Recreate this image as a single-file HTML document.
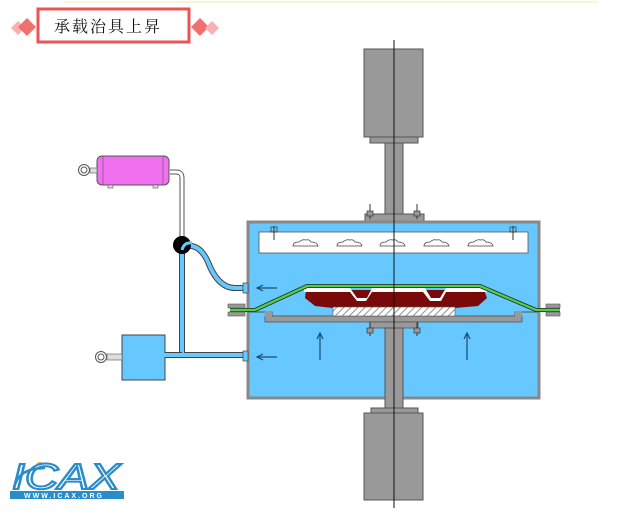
<!DOCTYPE html>
<html><head><meta charset="utf-8"><style>
html,body{margin:0;padding:0;background:#fff;width:628px;height:512px;overflow:hidden}
</style></head><body>
<svg width="628" height="512" viewBox="0 0 628 512" xmlns="http://www.w3.org/2000/svg">
<defs>
<pattern id="h" width="5" height="5" patternUnits="userSpaceOnUse" patternTransform="rotate(45)">
<rect width="5" height="5" fill="#fff"/><line x1="0" y1="0" x2="0" y2="5" stroke="#777" stroke-width="1.6"/></pattern>
</defs>
<line x1="64" y1="2" x2="598" y2="2" stroke="#f8f4c0" stroke-width="1.5"/>
<polygon points="11,28 18,21 25,28 18,35" fill="#f8b0b0"/>
<polygon points="18,27 27,18 36,27 27,36" fill="#f07070"/>
<polygon points="191,27 200,18 209,27 200,36" fill="#f07070"/>
<polygon points="205,28 212,21 219,28 212,35" fill="#f8b0b0"/>
<rect x="38" y="9" width="151" height="33" fill="#fff" stroke="#e85555" stroke-width="3"/>
<text x="54" y="32" font-family="Noto Serif CJK SC, Noto Sans CJK SC, serif" font-size="16" letter-spacing="2" fill="#111">承载治具上昇</text>

<rect x="364" y="49" width="59" height="88" fill="#999" stroke="#555"/>
<rect x="370" y="137" width="48" height="6" fill="#999" stroke="#555"/>
<rect x="385" y="143" width="18" height="72" fill="#999" stroke="#555"/>
<rect x="365" y="214" width="59" height="7" fill="#999" stroke="#555"/>
<line x1="370" y1="204" x2="370" y2="219" stroke="#333"/><rect x="367" y="211" width="6" height="5" fill="#999" stroke="#333" stroke-width=".7"/>
<line x1="417" y1="204" x2="417" y2="219" stroke="#333"/><rect x="414" y="211" width="6" height="5" fill="#999" stroke="#333" stroke-width=".7"/>

<rect x="248" y="222" width="291" height="176" fill="#66c8ff" stroke="#555" stroke-width="1"/>
<rect x="248" y="222" width="291" height="176" fill="none" stroke="#888" stroke-width="3"/>
<rect x="259" y="232" width="269" height="21" fill="#fff" stroke="#555" stroke-width=".8"/>
<g fill="none" stroke="#444" stroke-width=".8">
<path d="M293,246 q0,-4 6,-4 q3,-3 7,-2 q3,-1 5,2 q6,0 7,4 z"/>
<path d="M337,246 q0,-4 6,-4 q3,-3 7,-2 q3,-1 5,2 q6,0 7,4 z"/>
<path d="M380,246 q0,-4 6,-4 q3,-3 7,-2 q3,-1 5,2 q6,0 7,4 z"/>
<path d="M424,246 q0,-4 6,-4 q3,-3 7,-2 q3,-1 5,2 q6,0 7,4 z"/>
<path d="M468,246 q0,-4 6,-4 q3,-3 7,-2 q3,-1 5,2 q6,0 7,4 z"/>
</g>
<line x1="274" y1="226" x2="274" y2="240" stroke="#333"/><rect x="271" y="227" width="6" height="5" fill="none" stroke="#333" stroke-width=".7"/>
<line x1="513" y1="226" x2="513" y2="240" stroke="#333"/><rect x="510" y="227" width="6" height="5" fill="none" stroke="#333" stroke-width=".7"/>
<path d="M249,312 H272 V316 H515 V312 H538" fill="none" stroke="#555" stroke-width="1"/>
<rect x="265" y="316" width="257" height="6" fill="#999" stroke="#555" stroke-width=".8"/>
<rect x="265" y="311" width="7" height="6" fill="#999"/><rect x="515" y="311" width="7" height="6" fill="#999"/>
<path d="M306,290 L484,290 L487,298 L478,306 L455,308 L333,308 L315,306 L305,298 Z" fill="#7a0a0a"/>
<path d="M304,288 L350,288 L357,298 L367,298 L372,288 L425,288 L431,298 L440,298 L446,288 L486,288 L487,292 L446,292 L441,301 L430,301 L423,292 L372,292 L366,301 L357,301 L350,292 L304,292 Z" fill="#fff"/>
<rect x="333" y="307" width="122" height="9" fill="url(#h)" stroke="#555" stroke-width=".6"/>
<path d="M230,310 L255,310 L307,286 L480,286 L536,310 L560,310" fill="none" stroke="#222" stroke-width="4"/>
<path d="M230,310 L255,310 L307,286 L480,286 L536,310 L560,310" fill="none" stroke="#4ed04e" stroke-width="2.4"/>
<rect x="228" y="304" width="17" height="4" fill="#999" stroke="#555" stroke-width=".6"/><rect x="228" y="312" width="17" height="4" fill="#999" stroke="#555" stroke-width=".6"/>
<rect x="546" y="304" width="14" height="4" fill="#999" stroke="#555" stroke-width=".6"/><rect x="546" y="312" width="14" height="4" fill="#999" stroke="#555" stroke-width=".6"/>
<rect x="370" y="322" width="48" height="6" fill="#999" stroke="#555" stroke-width=".8"/>
<rect x="385" y="328" width="18" height="81" fill="#999" stroke="#555"/>
<line x1="370" y1="322" x2="370" y2="336" stroke="#333"/><rect x="367" y="328" width="6" height="5" fill="#999" stroke="#333" stroke-width=".7"/>
<line x1="417" y1="322" x2="417" y2="336" stroke="#333"/><rect x="414" y="328" width="6" height="5" fill="#999" stroke="#333" stroke-width=".7"/>
<rect x="371" y="408" width="47" height="5" fill="#999" stroke="#555"/>
<rect x="364" y="413" width="59" height="87" fill="#999" stroke="#555"/>
<line x1="394" y1="40" x2="394" y2="508" stroke="#111" stroke-width="1"/>
<g stroke="#1a4a70" stroke-width="1.2" fill="none">
<line x1="258" y1="288" x2="277" y2="288"/><path d="M263,285 L257,288 L263,291"/>
<line x1="258" y1="357" x2="277" y2="357"/><path d="M263,354 L257,357 L263,360"/>
<line x1="320" y1="334" x2="320" y2="360"/><path d="M317,339 L320,333 L323,339"/>
<line x1="467" y1="334" x2="467" y2="360"/><path d="M464,339 L467,333 L470,339"/>
</g>
<path d="M170,172 H176 Q182,172 182,178 V242" fill="none" stroke="#555" stroke-width="5"/>
<path d="M170,172 H176 Q182,172 182,178 V242" fill="none" stroke="#fff" stroke-width="3"/>
<path d="M182,245 V355 H247 M186,246 Q200,244 208,262 Q218,288 235,288 H247" fill="none" stroke="#444" stroke-width="6"/>
<path d="M182,245 V355 H247 M186,246 Q200,244 208,262 Q218,288 235,288 H247" fill="none" stroke="#66c8ff" stroke-width="4"/>
<rect x="243" y="283" width="5" height="10" fill="#66c8ff" stroke="#444" stroke-width=".7"/>
<rect x="243" y="351" width="5" height="10" fill="#66c8ff" stroke="#444" stroke-width=".7"/>
<circle cx="182" cy="245" r="9" fill="#000"/>
<path d="M182,250 Q184,242 192,243" fill="none" stroke="#66c8ff" stroke-width="3"/>
<rect x="97" y="156" width="72" height="29" rx="5" fill="#f070f0" stroke="#555"/>
<line x1="103" y1="156" x2="103" y2="185" stroke="#555" stroke-width=".6"/><line x1="163" y1="156" x2="163" y2="185" stroke="#555" stroke-width=".6"/>
<rect x="108" y="185" width="5" height="3" fill="#ddd" stroke="#555" stroke-width=".6"/><rect x="153" y="185" width="5" height="3" fill="#ddd" stroke="#555" stroke-width=".6"/>
<rect x="90" y="168" width="7" height="5" fill="#ddd" stroke="#555" stroke-width=".6"/>
<circle cx="84" cy="170" r="5.5" fill="#fff" stroke="#555"/><circle cx="84" cy="170" r="3" fill="#fff" stroke="#555"/>
<rect x="122" y="335" width="43" height="45" fill="#66c8ff" stroke="#444"/>
<path d="M165,355 H182" stroke="#444" stroke-width="6"/><path d="M164,355 H183" stroke="#66c8ff" stroke-width="4"/>
<rect x="107" y="354" width="15" height="6" fill="#ddd" stroke="#555" stroke-width=".6"/>
<circle cx="101" cy="357" r="5.5" fill="#fff" stroke="#555"/><circle cx="101" cy="357" r="3" fill="#fff" stroke="#555"/>
<circle cx="40" cy="466" r="4" fill="#e8a040"/>
<text x="12" y="489" font-family="Liberation Sans, sans-serif" font-style="italic" font-size="36" textLength="108" lengthAdjust="spacingAndGlyphs" fill="#fff" stroke="#2a8cc8" stroke-width="2">ICAX</text>
<path d="M14,488 Q18,468 45,468" fill="none" stroke="#2a8cc8" stroke-width="2.5"/>
<rect x="10" y="491" width="114" height="8" fill="#2a8cc8"/>
<text x="24" y="498" font-family="Liberation Sans, sans-serif" font-weight="bold" font-size="7" fill="#fff" letter-spacing="2">WWW.ICAX.ORG</text>
</svg>
</body></html>
